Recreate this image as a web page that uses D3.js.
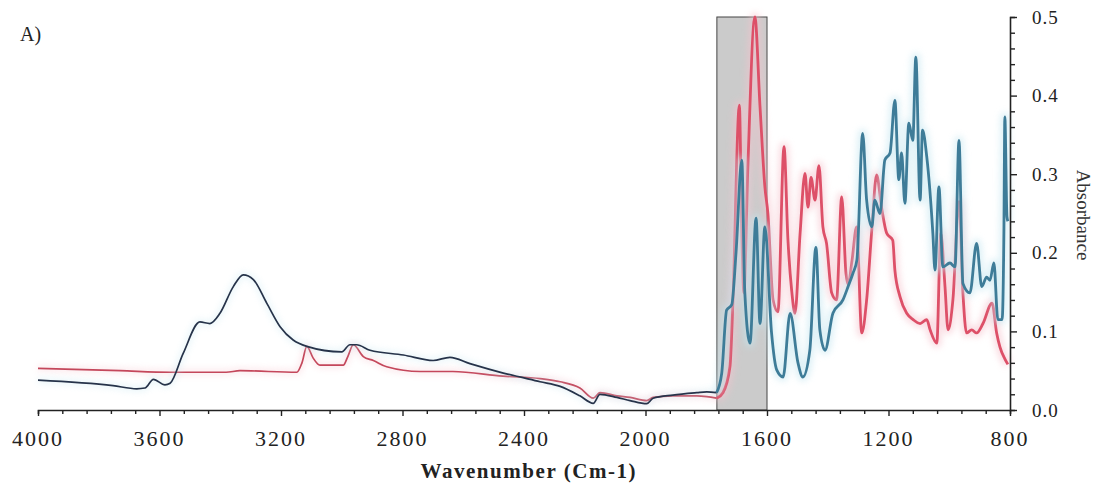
<!DOCTYPE html>
<html><head><meta charset="utf-8">
<script src="https://cdn.jsdelivr.net/npm/d3@7"></script>
<style>html,body{margin:0;padding:0;background:#fff;}svg{display:block;}</style>
</head><body>
<script>
const blueWn = [4000,3753,3675,3648,3620,3582,3565,3522,3467,3434,3401,3357,3324,3291,3247,3203,3160,3115,3000,2973,2951,2907,2797,2699,2644,2578,2468,2347,2281,2216,2172,2150,2094,2051,1996,1975,1910,1831,1798,1766,1749,1733,1716,1702,1683,1673,1656,1636,1623,1607,1585,1568,1547,1524,1498,1482,1459,1439,1426,1409,1383,1350,1333,1317,1304,1285,1272,1255,1245,1228,1212,1195,1179,1166,1157,1146,1133,1120,1110,1096,1088,1074,1054,1047,1034,1021,998,981,968,955,932,910,893,877,866,853,840,826,820,817,810,807];
const blueAbs = [0.038,0.031,0.027,0.028,0.039,0.032,0.034,0.072,0.112,0.110,0.123,0.157,0.172,0.166,0.136,0.106,0.089,0.081,0.074,0.083,0.083,0.076,0.070,0.063,0.067,0.059,0.047,0.036,0.030,0.018,0.0085,0.020,0.016,0.012,0.008,0.015,0.019,0.022,0.023,0.022,0.047,0.127,0.134,0.2,0.318,0.149,0.085,0.244,0.11,0.233,0.098,0.051,0.042,0.123,0.06,0.042,0.076,0.207,0.102,0.076,0.123,0.14,0.157,0.174,0.191,0.352,0.267,0.233,0.267,0.25,0.318,0.327,0.394,0.293,0.327,0.263,0.365,0.343,0.449,0.267,0.356,0.322,0.225,0.178,0.284,0.182,0.187,0.182,0.343,0.161,0.149,0.212,0.157,0.169,0.165,0.187,0.115,0.115,0.229,0.373,0.246,0.24];
const redWn = [4000,3730,3565,3381,3335,3148,3131,3115,3094,3072,2995,2980,2962,2929,2896,2852,2742,2634,2469,2347,2281,2216,2172,2150,2094,2051,1996,1975,1910,1831,1798,1766,1745,1722,1712,1691,1683,1676,1663,1640,1623,1607,1597,1580,1564,1544,1531,1519,1508,1491,1475,1465,1455,1442,1429,1416,1404,1387,1371,1354,1340,1333,1320,1305,1288,1272,1255,1239,1223,1206,1186,1179,1162,1140,1119,1096,1074,1063,1041,1028,1014,1004,988,968,955,943,926,910,889,859,844,833,817,807];
const redAbs = [0.053,0.050,0.048,0.048,0.050,0.048,0.06,0.081,0.066,0.057,0.057,0.068,0.083,0.068,0.063,0.055,0.049,0.049,0.043,0.040,0.036,0.028,0.015,0.022,0.018,0.016,0.012,0.016,0.018,0.018,0.017,0.015,0.022,0.055,0.14,0.388,0.225,0.149,0.309,0.5,0.386,0.284,0.25,0.14,0.125,0.335,0.216,0.153,0.123,0.225,0.301,0.258,0.296,0.267,0.311,0.233,0.212,0.149,0.14,0.271,0.174,0.16,0.19,0.233,0.098,0.14,0.229,0.299,0.258,0.225,0.216,0.178,0.144,0.123,0.115,0.11,0.115,0.102,0.085,0.225,0.157,0.102,0.14,0.265,0.149,0.098,0.102,0.098,0.11,0.136,0.098,0.08,0.065,0.058];
const xTickLabels = [4000,3600,3200,2800,2400,2000,1600,1200,800];
const yTickLabels = [0.0,0.1,0.2,0.3,0.4,0.5];
const bandRange = [1765,1600];
const panelLabel = "A)";
const xTitle = "Wavenumber (Cm-1)";
const yTitle = "Absorbance";

const W = 1096, H = 483;
const x = d3.scaleLinear().domain([4000,800]).range([38,1010]);
const y = d3.scaleLinear().domain([0,0.5]).range([410,17]);

const svg = d3.select("body").append("svg").attr("width",W).attr("height",H);
const defs = svg.append("defs");
const f = defs.append("filter").attr("id","glow").attr("x","-10%").attr("y","-10%").attr("width","120%").attr("height","120%");
f.append("feGaussianBlur").attr("stdDeviation",3);

// shaded band
svg.append("rect")
  .attr("x", x(bandRange[0])).attr("y", y(0.5))
  .attr("width", x(bandRange[1]) - x(bandRange[0]))
  .attr("height", y(0) - y(0.5))
  .attr("fill", "#cbcbcb").attr("stroke", "#444").attr("stroke-width", 1);

const blue = blueWn.map((w,i)=>({w, a: blueAbs[i]}));
const red = redWn.map((w,i)=>({w, a: redAbs[i]}));
const split = 1766;
const line = d3.line().x(d=>x(d.w)).y(d=>y(d.a)).curve(d3.curveMonotoneX);

function draw(data, thinColor, thickColor, glowColor){
  const left = data.filter(d=>d.w>=split);
  const right = data.filter(d=>d.w<=split);
  svg.append("path").datum(left).attr("d", line).attr("fill","none")
    .attr("stroke", glowColor).attr("stroke-width", 6).attr("opacity", 0.35).attr("filter","url(#glow)");
  svg.append("path").datum(right).attr("d", line).attr("fill","none")
    .attr("stroke", glowColor).attr("stroke-width", 9).attr("opacity", 0.55).attr("filter","url(#glow)");
  svg.append("path").datum(left).attr("d", line).attr("fill","none")
    .attr("stroke", thinColor).attr("stroke-width", 1.7).attr("stroke-linejoin","round");
  svg.append("path").datum(right).attr("d", line).attr("fill","none")
    .attr("stroke", thickColor).attr("stroke-width", 2.8).attr("stroke-linejoin","round");
}
draw(red, "#c4475b", "#dd5068", "#f6c2cc");
draw(blue, "#26334a", "#3e7c98", "#c4e6f0");

const font = "'Liberation Serif','Times New Roman',serif";

// x axis
const xAxis = d3.axisBottom(x)
  .tickValues(d3.range(4000, 799, -80))
  .tickSize(4).tickFormat("");
const gx = svg.append("g").attr("transform", "translate(0,410)").call(xAxis);
gx.select(".domain").attr("stroke","#222").attr("stroke-width",1.6);
gx.selectAll(".tick line").attr("stroke","#222").attr("stroke-width",1.4)
  .attr("y2", d => xTickLabels.includes(d) ? 6 : 4);
svg.append("g").selectAll("text").data(xTickLabels).join("text")
  .attr("x", d=>x(d)).attr("y", 446)
  .attr("text-anchor","middle")
  .attr("font-family", font).attr("font-size", 22).attr("letter-spacing", 2)
  .attr("fill","#222").text(d=>d);

// y axis (right)
const yAxis = d3.axisRight(y).tickValues(d3.range(0, 0.5001, 0.02)).tickSize(5).tickFormat("");
const gy = svg.append("g").attr("transform","translate(1010,0)").call(yAxis);
gy.select(".domain").attr("stroke","#222").attr("stroke-width",1.6);
gy.selectAll(".tick line").attr("stroke","#222").attr("stroke-width",1.4)
  .attr("x2", d => Math.abs(Math.round(d*10) - d*10) < 1e-6 ? 7 : 5);
svg.append("g").selectAll("text").data(yTickLabels).join("text")
  .attr("x", 1032).attr("y", d=>y(d)).attr("dy","0.35em")
  .attr("font-family", font).attr("font-size", 19).attr("letter-spacing", 1)
  .attr("fill","#222").text(d=>d.toFixed(1));

// titles
svg.append("text").attr("x", 528).attr("y", 478).attr("text-anchor","middle")
  .attr("font-family", font).attr("font-size", 21).attr("font-weight","bold")
  .attr("textLength", 215).attr("lengthAdjust","spacing")
  .attr("fill","#222").text(xTitle);
svg.append("text").attr("transform","translate(1077,215) rotate(90)")
  .attr("text-anchor","middle")
  .attr("font-family", font).attr("font-size", 19)
  .attr("fill","#333").text(yTitle);
svg.append("text").attr("x", 20).attr("y", 41)
  .attr("font-family", font).attr("font-size", 20)
  .attr("fill","#222").text(panelLabel);
</script>
</body></html>
